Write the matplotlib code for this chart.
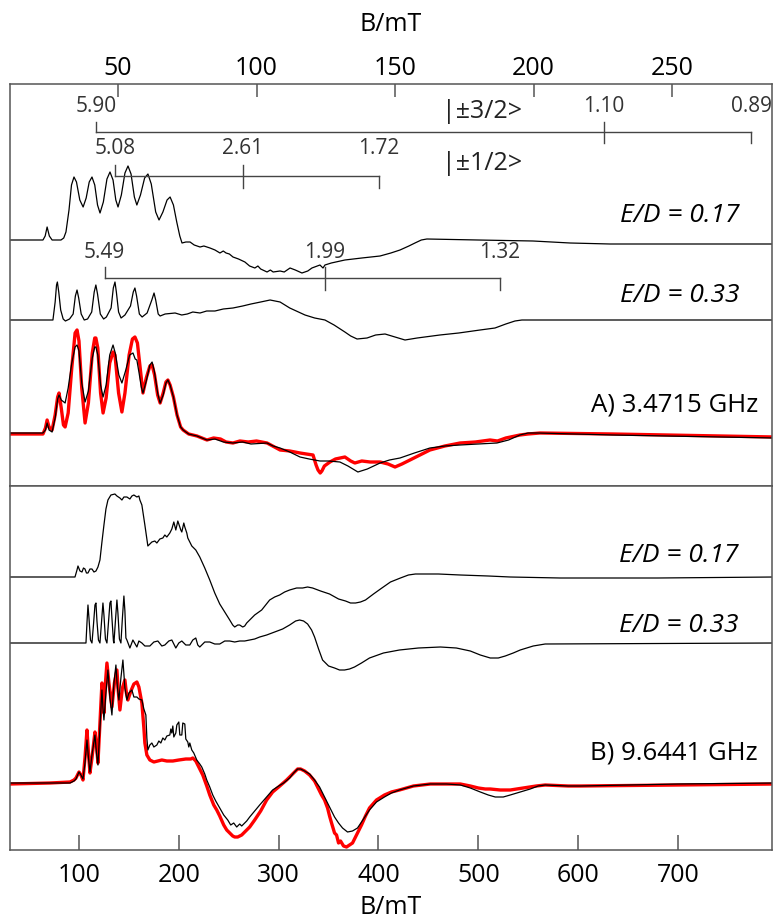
import matplotlib
matplotlib.use("Agg")
import matplotlib.pyplot as plt

plt.rcParams['font.family'] = ['Open Sans', 'DejaVu Sans']

# physical constants, used to place the g-value markers
H_PLANCK = 6.62607015e-34
MU_B = 9.2740100783e-24

def g_to_mT(g, f_ghz):
    return H_PLANCK * f_ghz * 1e9 / (g * MU_B) * 1e3

FREQ_A = 3.4715
FREQ_B = 9.6441

# ---------------- panel A (3.4715 GHz), (B/mT, intensity a.u.) ----------------
# simulation E/D = 0.17
a17 = [(11.0, 0), (22.9, 0), (23.7, 4), (24.4, 13), (25.2, 4), (26.2, 0), (29.4, 0), (30.4, 2),
       (31.2, 8), (32.3, 30), (33.2, 55), (34.1, 63), (35.0, 58), (36.2, 40), (37.4, 33),
       (38.5, 42), (39.6, 58), (40.6, 63), (41.6, 55), (42.6, 35), (43.5, 27), (44.7, 38),
       (46.0, 61), (47.1, 68), (48.2, 60), (49.2, 40), (50.0, 33), (51.2, 45), (52.5, 67),
       (53.6, 74), (54.7, 66), (55.9, 43), (56.8, 35), (58.1, 45), (59.6, 62), (60.8, 66),
       (62.0, 56), (63.6, 28), (64.8, 20), (66.2, 28), (67.7, 40), (68.8, 43), (70.0, 35),
       (71.2, 18), (72.3, 4), (73.1, -3), (74.5, -2), (76.0, -2), (77.5, -5), (79.6, -7),
       (81.0, -6), (83.2, -8), (85.0, -10), (86.8, -13), (88.0, -11), (89.0, -13), (90.2, -14),
       (91.5, -17), (93.5, -19), (95.8, -22), (97.5, -26), (99.4, -28), (100.5, -26),
       (101.5, -29), (103.8, -32), (105.0, -30), (106.0, -32), (108.5, -31), (110.0, -32),
       (112.1, -28), (114.0, -30), (116.4, -33), (118.5, -31), (120.0, -28), (122.9, -25),
       (124.0, -28), (124.7, -25), (127.0, -23), (131.9, -20), (138.0, -18), (144.6, -16),
       (148.5, -13), (151.8, -10), (155.0, -6), (157.2, -3), (159.5, 0), (161.5, 1),
       (180.0, 0), (199.8, -1), (213.2, -3), (227.6, -4), (287.2, -4)]

# simulation E/D = 0.33
a33 = [(11.0, 0), (26.5, 0), (27.3, 18), (27.8, 35), (28.1, 38), (28.6, 28), (29.3, 10),
       (30.2, 1), (31.0, -1), (32.5, 1), (33.8, 6), (34.6, 24), (35.2, 30), (35.8, 22),
       (36.7, 6), (37.8, 0), (39.0, 1), (40.5, 8), (41.4, 28), (42.0, 35), (42.6, 26),
       (43.6, 6), (44.8, 1), (45.8, 3), (47.5, 12), (48.3, 32), (48.9, 38), (49.4, 28),
       (50.2, 8), (51.1, 2), (52.5, 5), (54.5, 14), (55.5, 28), (56.1, 32), (56.7, 24),
       (57.7, 6), (58.7, 3), (60.5, 7), (62.2, 20), (63.0, 27), (63.6, 20), (64.5, 6),
       (65.2, 4), (67.0, 6), (70.6, 7), (73.0, 5), (75.0, 6), (77.0, 8), (79.6, 7), (82.0, 9),
       (85.0, 9), (88.0, 11), (91.5, 12), (95.0, 14), (98.0, 16), (101.5, 18), (104.9, 20),
       (108.5, 18), (112.0, 12), (117.5, 5), (121.0, 2), (124.7, 0), (128.0, -5), (131.9, -12),
       (134.0, -16), (136.3, -19), (139.9, -18), (143.0, -15), (146.4, -14), (150.0, -17),
       (153.6, -20), (158.0, -18), (166.2, -15), (173.0, -13), (180.7, -10), (186.1, -8),
       (190.0, -4), (193.3, -1), (195.8, 0), (287.2, 0)]

# simulation (black) and experiment (red), 3.4715 GHz
a_sim = [(11.0, 0), (22.9, 0), (23.8, 3), (24.4, 10), (25.1, 3), (26.2, 1), (27.3, 15),
         (28.2, 34), (28.7, 38), (29.5, 33), (30.9, 30), (32.0, 45), (33.3, 70), (34.5, 86),
         (35.2, 88), (35.9, 82), (36.9, 50), (38.1, 31), (39.3, 42), (40.7, 75), (41.6, 86),
         (42.0, 86), (42.7, 78), (43.7, 48), (44.6, 36), (45.7, 48), (47.0, 78), (48.2, 88),
         (49.0, 80), (50.3, 58), (51.4, 50), (52.7, 62), (54.2, 78), (55.4, 80), (56.2, 74),
         (56.8, 73), (57.6, 60), (58.4, 46), (59.0, 40), (60.2, 52), (61.5, 68), (62.3, 71),
         (63.1, 62), (64.3, 40), (65.2, 30), (66.3, 38), (67.3, 50), (68.0, 53), (68.8, 48),
         (70.0, 36), (71.3, 18), (72.6, 6), (73.5, 3), (75.5, -1), (78.5, -3), (82.1, -7),
         (85.0, -6), (88.0, -9), (91.5, -10), (95.0, -9), (98.0, -11), (103.8, -10),
         (106.0, -13), (108.5, -15), (112.0, -19), (115.7, -24), (119.0, -26), (122.9, -28),
         (126.0, -28), (130.1, -29), (133.0, -33), (136.6, -39), (140.0, -36), (144.6, -30),
         (148.0, -27), (151.8, -25), (157.0, -20), (162.6, -15), (168.0, -13), (173.5, -12),
         (180.0, -11), (186.8, -10), (191.0, -7), (195.1, -2), (198.0, 0), (201.2, 0),
         (228.7, -2), (287.2, -5)]

a_exp = [(11.0, -1), (22.9, -1), (23.8, 5), (24.4, 13), (25.1, 6), (26.2, 3), (27.3, 18),
         (28.2, 36), (28.7, 40), (29.5, 25), (30.3, 8), (30.9, 6), (32.0, 20), (33.3, 65),
         (34.5, 100), (35.2, 103), (35.9, 92), (36.9, 45), (38.1, 10), (39.3, 30), (40.7, 80),
         (41.6, 95), (42.0, 95), (42.7, 85), (43.7, 40), (44.6, 20), (45.7, 35), (47.0, 70),
         (48.2, 81), (48.9, 78), (50.2, 40), (51.4, 21), (52.5, 40), (54.0, 78), (55.2, 94),
         (56.1, 96), (57.0, 90), (58.0, 65), (59.0, 40), (60.2, 55), (61.5, 67), (62.3, 68),
         (63.2, 58), (64.3, 38), (65.2, 30), (66.3, 40), (67.3, 51), (68.0, 53), (68.8, 48),
         (70.0, 36), (71.3, 18), (72.6, 6), (73.5, 3), (75.5, -1), (78.5, -3), (82.1, -7),
         (84.5, -5), (87.0, -6), (89.0, -9), (91.5, -10), (94.0, -8), (97.0, -9), (100.0, -8),
         (103.8, -10), (106.5, -14), (108.5, -17), (112.0, -18), (115.7, -20), (118.0, -21),
         (120.4, -22), (121.5, -32), (122.2, -37), (123.0, -40), (123.6, -38), (124.5, -33),
         (126.5, -29), (128.5, -26), (131.9, -24), (134.0, -28), (135.5, -30), (138.0, -28),
         (141.0, -29), (144.6, -29), (147.5, -31), (150.0, -34), (152.5, -31), (155.4, -27),
         (159.0, -22), (162.6, -17), (168.0, -13), (173.5, -10), (179.0, -9), (184.3, -7),
         (187.0, -8), (190.0, -5), (195.1, -2), (198.0, -1), (202.3, 0), (228.7, -1),
         (287.2, -4)]

# g-value markers (panel A)
g_32 = [5.90, 1.10, 0.89]
g_12 = [5.08, 2.61, 1.72]
g_033 = [5.49, 1.99, 1.32]

# ---------------- panel B (9.6441 GHz) ----------------
b17 = [(31, 0), (96, 0), (98, 7), (99, 11), (101, 6), (103, 5), (104.5, 9), (106, 8), (107.5, 4),
       (109, 4), (111, 8), (113, 8), (115, 5), (117, 6), (119, 10), (121, 17), (123, 35),
       (125, 52), (127, 68), (129, 77), (132, 82), (136, 83), (138, 81), (141, 79), (143, 77),
       (145, 80), (148, 80), (151, 78), (153, 81), (155, 82), (158, 80), (160, 81), (161, 77),
       (163, 72), (166, 52), (169, 31), (171, 33), (173, 35), (176, 36), (178, 34), (181, 38),
       (184, 39), (186, 42), (188, 40), (191, 44), (193, 48), (195, 55), (197, 47), (199, 56),
       (200, 53), (202, 47), (203, 45), (205, 54), (206, 50), (208, 44), (209, 39), (211, 35),
       (213, 31), (217, 27), (221, 20), (226, 9), (231, -3), (236, -16), (241, -27),
       (246, -35), (251, -43), (254, -48), (256, -50), (259, -48), (261, -48), (264, -50),
       (266, -49), (268, -46), (271, -43), (276, -38), (283, -33), (287, -28), (291, -23),
       (296, -20), (301, -18), (306, -15), (311, -13), (318, -11), (324, -11), (329, -10),
       (334, -11), (342, -14), (351, -17), (360, -22), (367, -24), (372, -26), (377, -26),
       (382, -25), (387, -23), (395, -17), (402, -12), (412, -5), (422, -1), (430, 2),
       (437, 3), (460, 3), (482, 2), (510, 1), (532, 0), (582, -1), (680, -1), (797, 0)]

b33 = [(31, 0), (107, 0), (108, 20), (109, 38), (110, 25), (111.5, 3), (113, 0), (114.5, 18),
       (116, 38), (117, 40), (118, 22), (119.5, 3), (121, 0), (122.5, 20), (124, 40), (125, 28),
       (126.5, 4), (128, 0), (129.5, 20), (131, 40), (132, 42), (133, 25), (134.5, 2), (135, 0),
       (136.5, 22), (138, 43), (139, 30), (140.5, 4), (142, 0), (143.5, 25), (145, 47),
       (146, 32), (147, 5), (148, 3), (151, -5), (154, 3), (158, -4), (160, 2), (163, 0),
       (166, -3), (171, -3), (175, 1), (179, 2), (183, -3), (186, -2), (190, 2), (193, 3),
       (197, -5), (200, 0), (203, 2), (207, -2), (211, -2), (214, 3), (217, 5), (219, -2),
       (221, -4), (226, 1), (231, 1), (236, -1), (241, -1), (246, 2), (251, 2), (256, 1),
       (261, 2), (266, 2), (271, 3), (276, 4), (281, 6), (288, 8), (296, 11), (304, 14),
       (311, 18), (317, 22), (321, 23), (325, 22), (329, 19), (333, 13), (336, 6), (340, -6),
       (344, -17), (350, -23), (356, -25), (361, -27), (366, -27), (371, -26), (376, -24),
       (383, -20), (391, -15), (405, -10), (421, -7), (440, -5), (462, -4), (478, -5),
       (492, -8), (502, -12), (512, -15), (520, -15), (527, -13), (535, -10), (542, -7),
       (555, -3), (567, -1), (797, 0)]

b_sim = [(31, 0), (91, 0), (95, 2), (97, 4), (100, 11), (102, 8), (104, 4), (106, 20), (108, 43),
         (109.5, 25), (111, 11), (113, 28), (116, 48), (117.5, 30), (119, 18), (121, 55),
         (123, 93), (124, 75), (125, 63), (127, 90), (129, 113), (131, 85), (133, 68),
         (135, 100), (137, 118), (138.5, 95), (140, 83), (142, 105), (144, 123), (146, 95),
         (148, 83), (150, 90), (153, 93), (155, 86), (158, 86), (160, 84), (163, 83), (165, 74),
         (167, 68), (168, 45), (169, 33), (171, 38), (173, 40), (175, 36), (178, 38), (180, 42),
         (182, 40), (184, 45), (186, 43), (188, 47), (191, 48), (192, 54), (193, 50), (194, 57),
         (195, 46), (197, 50), (198, 58), (200, 61), (201, 48), (203, 48), (204, 60), (206, 59),
         (207, 44), (209, 41), (210, 36), (211, 40), (213, 33), (215, 30), (218, 23), (221, 19),
         (223, 16), (226, 9), (228, 3), (231, -4), (234, -12), (237, -18), (241, -25),
         (245, -32), (249, -37), (252, -42), (255, -40), (258, -44), (261, -41), (263, -43),
         (266, -40), (268, -38), (271, -34), (276, -28), (281, -22), (288, -14), (294, -7),
         (300, -3), (305, 0), (311, 5), (315, 10), (319, 14), (322, 14), (326, 12), (331, 9),
         (336, 3), (341, -4), (346, -14), (351, -24), (356, -34), (360, -40), (364, -45),
         (369, -49), (374, -48), (379, -45), (385, -36), (391, -27), (398, -19), (406, -14),
         (413, -10), (421, -7), (435, -3), (452, -1), (468, -1), (482, -2), (492, -5),
         (502, -9), (510, -12), (517, -14), (525, -14), (532, -12), (542, -9), (552, -6),
         (560, -3), (567, -2), (590, -3), (602, -3), (700, -1), (797, 0)]

b_exp = [(31, -1), (71, 0), (91, 1), (95, 3), (97, 5), (100, 11), (102, 8), (104, 3), (106, 25),
         (108, 53), (109.5, 30), (111, 10), (113, 25), (116, 51), (117.5, 38), (119, 20),
         (121, 60), (123, 100), (124, 85), (125, 70), (126.5, 100), (128, 120), (130, 100),
         (133, 76), (135.5, 100), (138, 113), (139.5, 90), (141, 73), (143.5, 95), (146, 103),
         (147.5, 90), (149, 83), (152, 92), (155, 99), (158, 101), (160, 96), (163, 80),
         (165, 55), (166, 40), (168, 28), (171, 23), (175, 21), (179, 22), (183, 23), (188, 22),
         (194, 22), (200, 23), (207, 24), (212, 24), (214, 25), (217, 22), (220, 16), (224, 8),
         (228, -3), (231, -12), (235, -22), (238, -27), (241, -33), (245, -42), (248, -47),
         (251, -50), (254, -53), (256, -54), (259, -54), (263, -52), (267, -48), (271, -44),
         (276, -37), (282, -28), (288, -17), (294, -9), (300, -4), (308, 3), (314, 9), (319, 14),
         (322, 14), (326, 12), (331, 8), (336, 2), (340, -6), (343, -12), (346, -17),
         (349, -25), (351, -33), (353, -40), (356, -50), (358, -52), (360, -60), (362, -58),
         (365, -63), (368, -64), (371, -62), (374, -60), (378, -52), (383, -42), (387, -33),
         (391, -25), (398, -17), (406, -12), (413, -9), (421, -7), (435, -3), (452, -1),
         (468, -1), (482, -1), (492, -3), (500, -5), (507, -6), (512, -6), (522, -7), (532, -7),
         (545, -5), (558, -3), (567, -2), (590, -3), (602, -3), (700, -2), (797, -1)]

# vertical offsets of the stacked traces
off_a = {'a17': 246, 'a33': 166, 'a': 53}
off_b = {'b17': 273, 'b33': 207, 'b': 67}

fig = plt.figure(figsize=(7.75, 9.24), dpi=100)
W, Hh = 775, 924
ax_a = fig.add_axes([10 / W, 1 - 486 / Hh, 762 / W, 402 / Hh])
ax_b = fig.add_axes([10 / W, 1 - 850 / Hh, 762 / W, 364 / Hh])

spine_c = '#555555'
for ax in (ax_a, ax_b):
    for s in ax.spines.values():
        s.set_color(spine_c)
        s.set_linewidth(1.1)
    ax.set_yticks([])

black = dict(color='black', lw=0.9)
red = dict(color='#ff0000', lw=2.4)

def trace(ax, pts, off, style):
    xs = [p[0] for p in pts]
    ys = [p[1] + off for p in pts]
    ax.plot(xs, ys, solid_joinstyle='round', **style)

# panel A traces
trace(ax_a, a17, off_a['a17'], black)
trace(ax_a, a33, off_a['a33'], black)
trace(ax_a, a_exp, off_a['a'], red)
trace(ax_a, a_sim, off_a['a'], black)
ax_a.set_xlim(11.0, 286.1)
ax_a.set_ylim(0, 402)
ax_a.xaxis.set_ticks_position('top')
ax_a.xaxis.set_label_position('top')
ax_a.set_xticks([50, 100, 150, 200, 250])
ax_a.tick_params(axis='x', direction='in', length=9, width=1.1, color=spine_c,
                 labelsize=18, pad=2)
ax_a.set_xlabel('B/mT', fontsize=18, labelpad=18)

# g-value brackets
lab_c = '#333333'
def bracket(ax, gs, freq, y, tick_up, tick_dn, label_y, fs=15):
    xs = [g_to_mT(g, freq) for g in gs]
    ax.plot([xs[0], xs[-1]], [y, y], color='#444444', lw=1.0)
    ax.plot([xs[0], xs[0]], [y, y + tick_up], color='#444444', lw=1.0)
    ax.plot([xs[1], xs[1]], [y + tick_up, y - tick_dn], color='#444444', lw=1.0)
    ax.plot([xs[2], xs[2]], [y, y - tick_dn], color='#444444', lw=1.0)
    for g, x in zip(gs, xs):
        ax.text(x, label_y, f'{g:.2f}', ha='center', va='center', fontsize=fs, color=lab_c)

bracket(ax_a, g_32, FREQ_A, 354, 10, 11, 379)
bracket(ax_a, g_12, FREQ_A, 310, 11, 12, 338)
bracket(ax_a, g_033, FREQ_A, 208, 11, 12, 234)
ax_a.text(167.0, 374, '|±3/2>', ha='left', va='center', fontsize=18, color='#222222')
ax_a.text(167.0, 323, '|±1/2>', ha='left', va='center', fontsize=18, color='#222222')

ax_a.text(274.5, 271, 'E/D = 0.17', ha='right', va='center', fontsize=19, style='italic')
ax_a.text(274.5, 191, 'E/D = 0.33', ha='right', va='center', fontsize=19, style='italic')
ax_a.text(281.0, 81, 'A) 3.4715 GHz', ha='right', va='center', fontsize=18.5)

# panel B traces
trace(ax_b, b17, off_b['b17'], black)
trace(ax_b, b33, off_b['b33'], black)
trace(ax_b, b_exp, off_b['b'], red)
trace(ax_b, b_sim, off_b['b'], black)
ax_b.set_xlim(30.9, 794.2)
ax_b.set_ylim(0, 364)
ax_b.set_xticks([100, 200, 300, 400, 500, 600, 700])
ax_b.tick_params(axis='x', direction='in', length=11, width=1.1, color=spine_c,
                 labelsize=18, pad=9.5)
ax_b.set_xlabel('B/mT', fontsize=18, labelpad=5)

ax_b.text(761, 295, 'E/D = 0.17', ha='right', va='center', fontsize=19, style='italic')
ax_b.text(761, 225, 'E/D = 0.33', ha='right', va='center', fontsize=19, style='italic')
ax_b.text(780, 97, 'B) 9.6441 GHz', ha='right', va='center', fontsize=18.5)

fig.savefig('out.png', dpi=100)
